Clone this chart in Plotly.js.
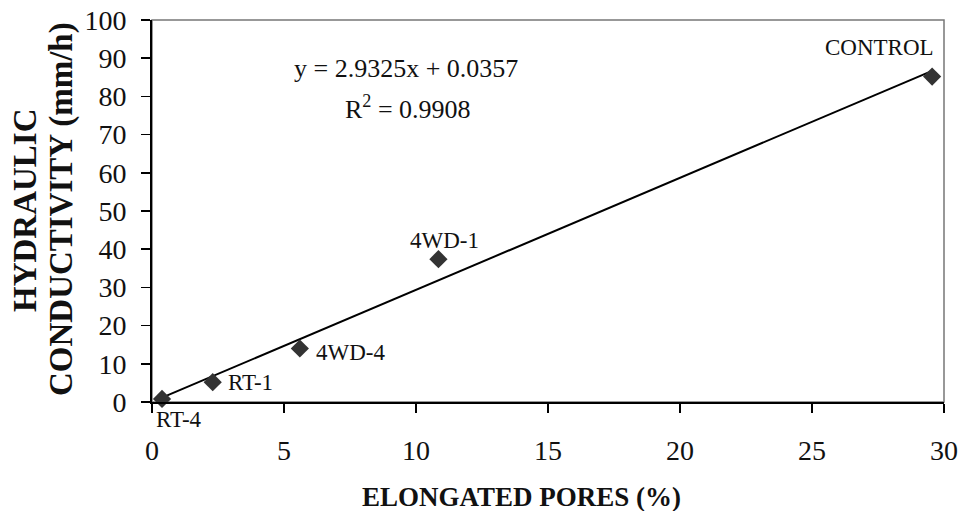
<!DOCTYPE html>
<html>
<head>
<meta charset="utf-8">
<script src="https://cdn.plot.ly/plotly-3.0.1.min.js"></script>
<style>html,body{margin:0;padding:0;background:#fff;}#chart{width:963px;height:511px;}</style>
</head>
<body>
<div id="chart"></div>
<script>
// ---- data ----
const sampleLabels = ['RT-4', 'RT-1', '4WD-4', '4WD-1', 'CONTROL'];
const elongatedPores = [0.38, 2.3, 5.6, 10.85, 29.55];
const hydraulicConductivity = [0.8, 5.2, 14.0, 37.4, 85.2];
const trendSlope = 2.9325;
const trendIntercept = 0.0357;
const equationText = 'y = 2.9325x + 0.0357';
const r2Text = 'R<sup>2</sup> = 0.9908';
const xTickVals = [0, 5, 10, 15, 20, 25, 30];
const yTickVals = [0, 10, 20, 30, 40, 50, 60, 70, 80, 90, 100];

// label offsets (pixels) relative to each point
const labelOffsets = [[17, -21], [38, 0], [51, -4], [6, 19], [-53, 29]];

const serif = 'Liberation Serif, Times New Roman, serif';
const xMin = Math.min(...elongatedPores), xMax = Math.max(...elongatedPores);
const trendX = [xMin, xMax];
const trendY = trendX.map(v => trendSlope * v + trendIntercept);

const traces = [
  {x: trendX, y: trendY, mode: 'lines', line: {color: '#000', width: 2}, hoverinfo: 'skip', showlegend: false},
  {x: elongatedPores, y: hydraulicConductivity, mode: 'markers', cliponaxis: false,
   marker: {symbol: 'diamond', size: 14, color: '#333'}, showlegend: false}
];

const annotations = sampleLabels.map((t, i) => ({
  x: elongatedPores[i], y: hydraulicConductivity[i], xref: 'x', yref: 'y', text: t, showarrow: false,
  xanchor: 'center', yanchor: 'middle',
  xshift: labelOffsets[i][0], yshift: labelOffsets[i][1],
  font: {family: serif, size: 23, color: '#111'}
}));
annotations.push(
  {x: 9.62, y: 87.4, xref: 'x', yref: 'y', text: equationText, showarrow: false, xanchor: 'center', yanchor: 'middle',
   font: {family: serif, size: 26, color: '#111'}},
  {x: 9.7, y: 77, xref: 'x', yref: 'y', text: r2Text, showarrow: false, xanchor: 'center', yanchor: 'middle',
   font: {family: serif, size: 26, color: '#111'}},
  {x: 25, y: 210, xref: 'paper', yref: 'paper', text: '<b>HYDRAULIC</b>', showarrow: false, textangle: -90,
   xanchor: 'center', yanchor: 'middle', font: {family: serif, size: 33, color: '#111'}},
  {x: 61, y: 209, xref: 'paper', yref: 'paper', text: '<b>CONDUCTIVITY (mm/h)</b>', showarrow: false, textangle: -90,
   xanchor: 'center', yanchor: 'middle', font: {family: serif, size: 33, color: '#111'}},
  {x: 521, y: 497, xref: 'paper', yref: 'paper', text: '<b>ELONGATED PORES (%)</b>', showarrow: false,
   xanchor: 'center', yanchor: 'middle', font: {family: serif, size: 27, color: '#111'}}
);
// convert pixel-positioned annotations into paper coordinates
const W = 963, H = 511, mL = 152, mR = 19, mT = 20, mB = 109;
const pw = W - mL - mR, ph = H - mT - mB;
annotations.forEach(a => {
  if (a.xref === 'paper') {
    a.x = (a.x - mL) / pw;
    a.y = 1 - (a.y - mT) / ph;
  }
});

const layout = {
  width: W, height: H,
  margin: {l: mL, r: mR, t: mT, b: mB, pad: 0},
  paper_bgcolor: '#fff', plot_bgcolor: '#fff',
  font: {family: serif, color: '#111'},
  xaxis: {range: [0, 30], tickvals: xTickVals, ticks: 'outside', ticklen: 9, tickwidth: 1.5, tickcolor: '#000',
          showline: true, linecolor: '#000', linewidth: 2, showgrid: false, zeroline: false,
          tickfont: {family: serif, size: 28, color: '#111'}, ticklabelstandoff: 13},
  yaxis: {range: [0, 100], tickvals: yTickVals, ticks: 'outside', ticklen: 9, tickwidth: 1.5, tickcolor: '#000',
          showline: true, linecolor: '#000', linewidth: 2, showgrid: false, zeroline: false,
          tickfont: {family: serif, size: 28, color: '#111'}, ticklabelstandoff: 9},
  shapes: [{type: 'rect', xref: 'paper', yref: 'paper', x0: 0, x1: 1, y0: 0, y1: 1,
            line: {color: '#777', width: 1.5}, layer: 'below'}],
  annotations: annotations,
  showlegend: false
};

Plotly.newPlot('chart', traces, layout, {displayModeBar: false, staticPlot: true});
</script>
</body>
</html>
